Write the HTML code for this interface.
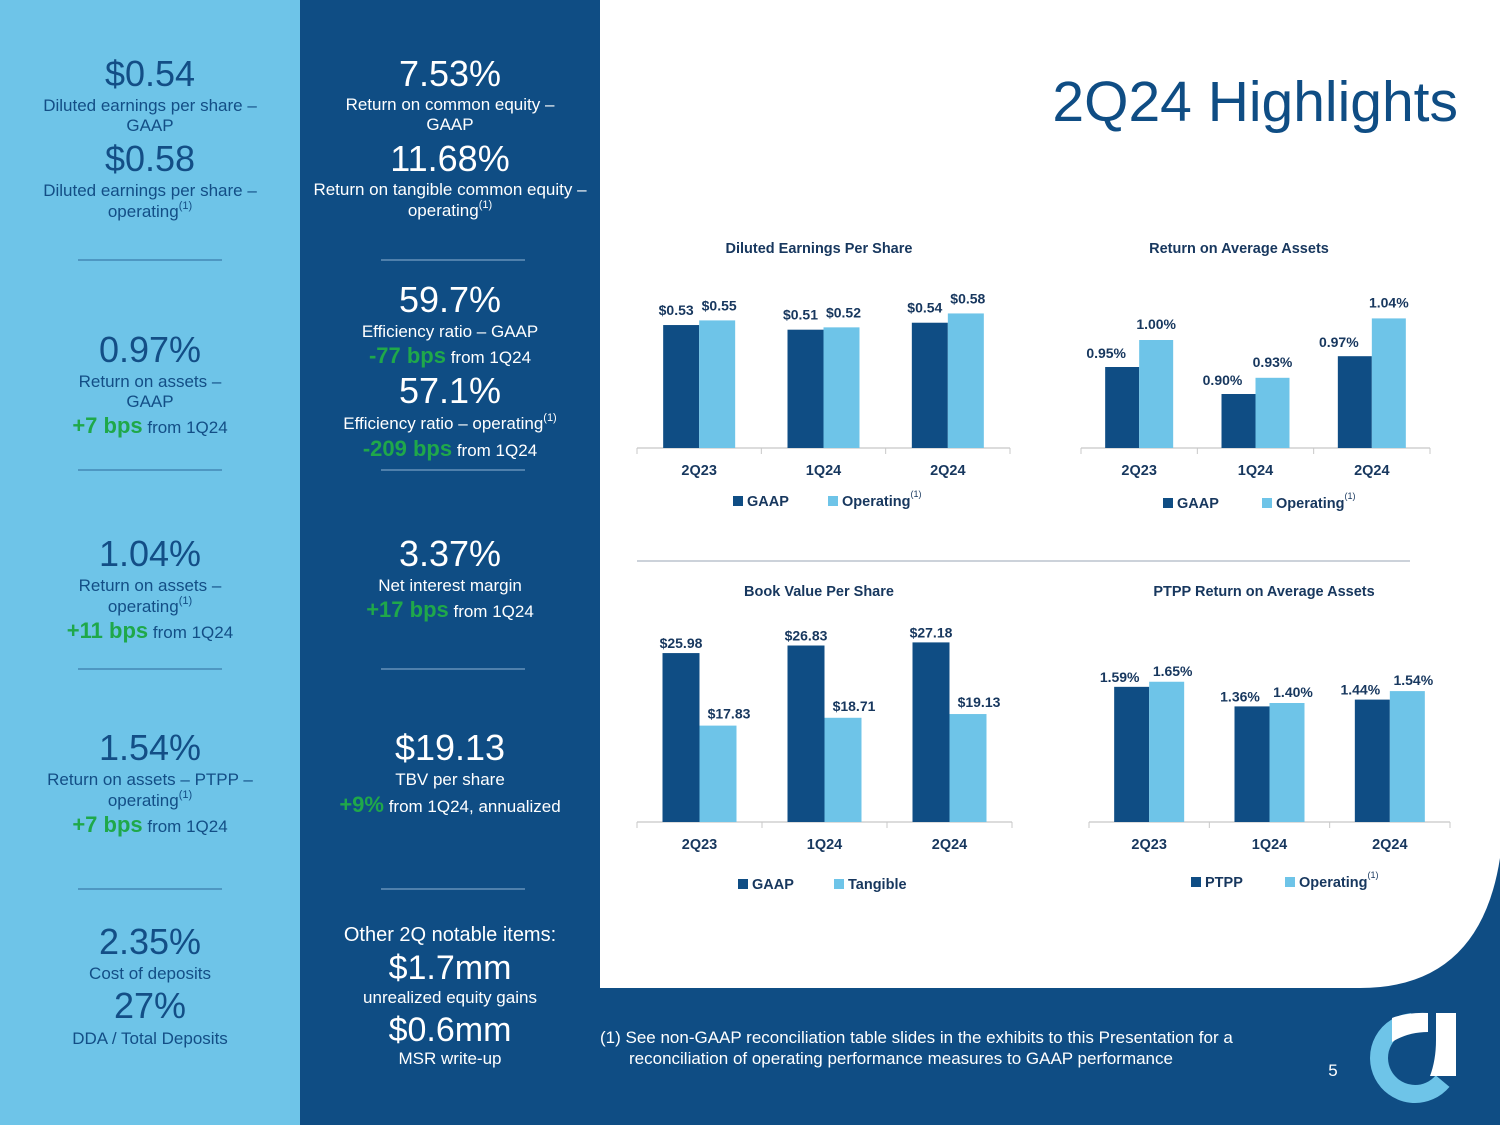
<!DOCTYPE html>
<html><head><meta charset="utf-8"><style>
html,body{margin:0;padding:0;background:#fff}
svg{display:block}
.sans{font-family:"Liberation Sans",sans-serif}
</style></head><body>
<svg id="s" width="1500" height="1125" viewBox="0 0 1500 1125" xmlns="http://www.w3.org/2000/svg" class="sans">
<rect x="0" y="0" width="300" height="1125" fill="#6ec4e8"/>
<rect x="300" y="0" width="300" height="1125" fill="#0f4d84"/>
<rect x="600" y="0" width="900" height="1125" fill="#0f4d84"/>
<path d="M600 0 H1500 V858 Q1480 988 1360 988 H600 Z" fill="#fff"/>

<text x="1458" y="121" text-anchor="end" font-size="57" fill="#0f4d84">2Q24 Highlights</text>

<g fill="#134e86" text-anchor="middle">
<text x="150" y="86" font-size="36">$0.54</text>
<text x="150" y="111" font-size="17">Diluted earnings per share –</text>
<text x="150" y="131" font-size="17">GAAP</text>
<text x="150" y="171" font-size="36">$0.58</text>
<text x="150" y="196" font-size="17">Diluted earnings per share –</text>
<text x="150" y="217" font-size="17">operating<tspan font-size="11" dy="-8">(1)</tspan></text>
<text x="150" y="362" font-size="36">0.97%</text>
<text x="150" y="387" font-size="17">Return on assets –</text>
<text x="150" y="407" font-size="17">GAAP</text>
<text x="150" y="433" font-size="17"><tspan fill="#1fa84a" font-size="22" font-weight="bold">+7 bps</tspan> from 1Q24</text>
<text x="150" y="566" font-size="36">1.04%</text>
<text x="150" y="591" font-size="17">Return on assets –</text>
<text x="150" y="612" font-size="17">operating<tspan font-size="11" dy="-8">(1)</tspan></text>
<text x="150" y="638" font-size="17"><tspan fill="#1fa84a" font-size="22" font-weight="bold">+11 bps</tspan> from 1Q24</text>
<text x="150" y="760" font-size="36">1.54%</text>
<text x="150" y="785" font-size="17">Return on assets – PTPP –</text>
<text x="150" y="806" font-size="17">operating<tspan font-size="11" dy="-8">(1)</tspan></text>
<text x="150" y="832" font-size="17"><tspan fill="#1fa84a" font-size="22" font-weight="bold">+7 bps</tspan> from 1Q24</text>
<text x="150" y="954" font-size="36">2.35%</text>
<text x="150" y="979" font-size="17">Cost of deposits</text>
<text x="150" y="1018" font-size="36">27%</text>
<text x="150" y="1044" font-size="17">DDA / Total Deposits</text>
</g>
<g stroke="#2f6a9c" stroke-width="1">
<line x1="78" x2="222" y1="260" y2="260"/><line x1="78" x2="222" y1="470" y2="470"/>
<line x1="78" x2="222" y1="669" y2="669"/><line x1="78" x2="222" y1="889" y2="889"/>
</g>

<g fill="#fff" text-anchor="middle">
<text x="450" y="86" font-size="36">7.53%</text>
<text x="450" y="110" font-size="17">Return on common equity –</text>
<text x="450" y="130" font-size="17">GAAP</text>
<text x="450" y="171" font-size="36">11.68%</text>
<text x="450" y="195" font-size="17">Return on tangible common equity –</text>
<text x="450" y="216" font-size="17">operating<tspan font-size="11" dy="-8">(1)</tspan></text>
<text x="450" y="312" font-size="36">59.7%</text>
<text x="450" y="337" font-size="17">Efficiency ratio – GAAP</text>
<text x="450" y="363" font-size="17"><tspan fill="#1fa84a" font-size="22" font-weight="bold">-77 bps</tspan> from 1Q24</text>
<text x="450" y="403" font-size="36">57.1%</text>
<text x="450" y="429" font-size="17">Efficiency ratio – operating<tspan font-size="11" dy="-8">(1)</tspan></text>
<text x="450" y="456" font-size="17"><tspan fill="#1fa84a" font-size="22" font-weight="bold">-209 bps</tspan> from 1Q24</text>
<text x="450" y="566" font-size="36">3.37%</text>
<text x="450" y="591" font-size="17">Net interest margin</text>
<text x="450" y="617" font-size="17"><tspan fill="#1fa84a" font-size="22" font-weight="bold">+17 bps</tspan> from 1Q24</text>
<text x="450" y="760" font-size="36">$19.13</text>
<text x="450" y="785" font-size="17">TBV per share</text>
<text x="450" y="812" font-size="17"><tspan fill="#1fa84a" font-size="22" font-weight="bold">+9%</tspan> from 1Q24, annualized</text>
<text x="450" y="941" font-size="20">Other 2Q notable items:</text>
<text x="450" y="979" font-size="34">$1.7mm</text>
<text x="450" y="1003" font-size="17">unrealized equity gains</text>
<text x="450" y="1041" font-size="34">$0.6mm</text>
<text x="450" y="1064" font-size="17">MSR write-up</text>
</g>
<g stroke="#8fb3d4" stroke-width="1">
<line x1="381" x2="525" y1="260" y2="260"/><line x1="381" x2="525" y1="470" y2="470"/>
<line x1="381" x2="525" y1="669" y2="669"/><line x1="381" x2="525" y1="889" y2="889"/>
</g>

<line x1="637" x2="1410" y1="561" y2="561" stroke="#9aa6b4" stroke-width="1"/>

<g fill="#fff" font-size="17">
<text x="600" y="1043">(1)  See non-GAAP reconciliation table slides in the exhibits to this Presentation for a</text>
<text x="629" y="1064">reconciliation of operating performance measures to GAAP performance</text>
</g>
<text x="1333" y="1076" fill="#fff" font-size="17" text-anchor="middle">5</text>
<g>
<path d="M1411.9 1022.1 A36 36 0 1 0 1442.6 1081.1" fill="none" stroke="#6ec4e8" stroke-width="18"/>
<path d="M1392 1018 Q1408 1012 1428 1013 L1428 1032 Q1408 1032 1392 1042 Z" fill="#fff"/>
<path d="M1436 1013 H1456 V1076 H1430 Q1436 1060 1436 1040 Z" fill="#fff"/>
</g>
<g id="charts"></g>
</svg>
<script>
// Diluted EPS
const epsCats = ["2Q23","1Q24","2Q24"];
const epsGaap = [0.53,0.51,0.54];
const epsOper = [0.55,0.52,0.58];
const epsGaapLbl = ["$0.53","$0.51","$0.54"];
const epsOperLbl = ["$0.55","$0.52","$0.58"];
// ROAA
const roaCats = ["2Q23","1Q24","2Q24"];
const roaGaap = [0.95,0.90,0.97];
const roaOper = [1.00,0.93,1.04];
// Book value per share
const bvCats = ["2Q23","1Q24","2Q24"];
const bvGaap = [25.98,26.83,27.18];
const bvTang = [17.83,18.71,19.13];
// PTPP ROAA
const ptCats = ["2Q23","1Q24","2Q24"];
const ptPtpp = [1.59,1.36,1.44];
const ptOper = [1.65,1.40,1.54];

const NS="http://www.w3.org/2000/svg";
const root=document.getElementById('charts');
const DARK="#0f4d84", LIGHT="#6ec4e8", TXT="#17375e";
function mk(tag,attrs,parent){const e=document.createElementNS(NS,tag);for(const k in attrs)e.setAttribute(k,attrs[k]);(parent||root).appendChild(e);return e;}

function chart(o){
  const g=mk('g',{});
  
  
  const y=v=>o.base-(v-o.min)*o.k;
  const t=mk('text',{x:o.titleX,y:o.titleY,'text-anchor':'middle','font-size':14.5,'font-weight':'bold',fill:TXT},g);
  t.textContent=o.title;
  
  
  const ax=mk('line',{x1:o.ax0,x2:o.ax1,y1:o.base,y2:o.base,stroke:'#c8c8c8','stroke-width':1.2},g);
  
  
  const step=(o.ax1-o.ax0)/o.cats.length;
  for(let i=0;i<=o.cats.length;i++){
    mk('line',{x1:o.ax0+i*step,x2:o.ax0+i*step,y1:o.base,y2:o.base+6,stroke:'#c8c8c8'},g);
  }
  o.cats.forEach((c,i)=>{
    const cx=o.ax0+(i+0.5)*step;
    const lab=mk('text',{x:cx,y:o.base+27,'text-anchor':'middle','font-size':14.5,'font-weight':'bold',fill:TXT},g);
    lab.textContent=c;
    
    
    [[o.s1,DARK,-1,o.l1],[o.s2,LIGHT,0,o.l2]].forEach(([arr,col,off,lbls],j)=>{
      const v=arr[i];
      const bx=cx+off*o.bw;
      const r=mk('rect',{x:bx,y:y(v),width:o.bw,height:o.base-y(v),fill:col},g);
      
      
      const vl=mk('text',{x:bx+o.bw/2+o.dx[j],y:y(v)-o.lift[j],'text-anchor':'middle','font-size':14,'font-weight':'bold',fill:TXT},g);
      vl.textContent=lbls?lbls[i]:o.fmt(v);
      
      
    });
  });
  [[o.n1,DARK,o.lg[0]],[o.n2,LIGHT,o.lg[1]]].forEach(([n,col,lx],j)=>{
    const sq=mk('rect',{x:lx,y:o.lgY-10,width:10,height:10,fill:col},g);
    
    
    const lt=mk('text',{x:lx+14,y:o.lgY,'font-size':14.5,'font-weight':'bold',fill:TXT},g);
    lt.textContent=n;
    if(j===1&&o.sup){const ts=mk('tspan',{'font-size':9,dy:-9,'font-weight':'normal'},lt);ts.textContent='(1)';}
    
    
  });
}
chart({name:'eps-chart',title:'Diluted Earnings Per Share',titleX:819,titleY:253,cats:epsCats,s1:epsGaap,s2:epsOper,l1:epsGaapLbl,l2:epsOperLbl,
  base:448,min:0,k:232,ax0:637,ax1:1010,bw:36,dx:[-5,2],lift:[10,10],n1:'GAAP',n2:'Operating',sup:true,lg:[733,828],lgY:506,fmt:v=>'$'+v.toFixed(2)});
chart({name:'roaa-chart',title:'Return on Average Assets',titleX:1239,titleY:253,cats:roaCats,s1:roaGaap,s2:roaOper,
  base:448,min:0.8,k:540,ax0:1081,ax1:1430,bw:34,dx:[-16,0],lift:[9,11],n1:'GAAP',n2:'Operating',sup:true,lg:[1163,1262],lgY:508,fmt:v=>v.toFixed(2)+'%'});
chart({name:'bvps-chart',title:'Book Value Per Share',titleX:819,titleY:596,cats:bvCats,s1:bvGaap,s2:bvTang,
  base:822,min:7,k:8.9,ax0:637,ax1:1012,bw:37,dx:[0,11],lift:[5,7],n1:'GAAP',n2:'Tangible',sup:false,lg:[738,834],lgY:889,fmt:v=>'$'+v.toFixed(2)});
chart({name:'ptpp-roaa-chart',title:'PTPP Return on Average Assets',titleX:1264,titleY:596,cats:ptCats,s1:ptPtpp,s2:ptOper,
  base:822,min:0,k:85,ax0:1089,ax1:1450,bw:35,dx:[-12,6],lift:[5,6],n1:'PTPP',n2:'Operating',sup:true,lg:[1191,1285],lgY:887,fmt:v=>v.toFixed(2)+'%'});
</script>
</body></html>
